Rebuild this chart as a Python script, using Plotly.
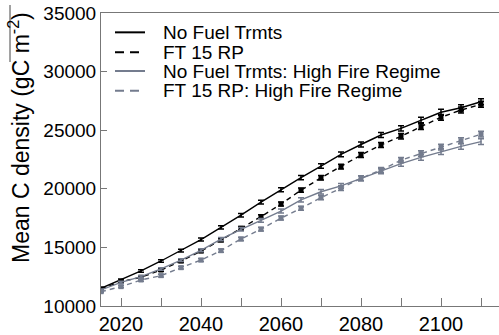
import plotly.graph_objects as go

years = list(range(2015, 2111, 5))
no_fuel = [11510, 12220, 12990, 13840, 14720, 15670, 16710, 17750, 18870, 19920,
           20960, 21940, 22940, 23780, 24590, 25160, 25870, 26530, 26920, 27430]
ft15 = [11450, 12090, 12450, 13070, 13840, 14690, 15630, 16630, 17620, 18700,
        19880, 20940, 21890, 22880, 23740, 24480, 25300, 26100, 26720, 27210]
no_fuel_hf = [11370, 12020, 12500, 13160, 13920, 14750, 15700, 16540, 17300, 18100,
              19050, 19750, 20250, 20900, 21500, 22150, 22680, 23170, 23620, 24020]
ft15_hf = [11220, 11650, 12220, 12590, 13270, 13920, 14720, 15720, 16550, 17500,
           18340, 19250, 20050, 20900, 21600, 22450, 23000, 23560, 24100, 24660]
err = [80, 90, 100, 110, 120, 130, 140, 150, 160, 170,
       180, 190, 200, 210, 220, 230, 240, 250, 250, 250]

names = ["No Fuel Trmts", "FT 15 RP", "No Fuel Trmts: High Fire Regime", "FT 15 RP: High Fire Regime"]
BLACK = "#000000"
GRAY = "#747c8e"
series = [
    (no_fuel, BLACK, "solid", False),
    (ft15, BLACK, "5px,4px", True),
    (no_fuel_hf, GRAY, "solid", False),
    (ft15_hf, GRAY, "5px,4px", True),
]

fig = go.Figure()
for (vals, col, dash, sq), nm in zip(series, names):
    fig.add_trace(go.Scatter(x=years, y=vals, mode="lines", name=nm,
                             line=dict(color=col, width=1.4, dash=dash),
                             showlegend=False))
    fig.add_trace(go.Scatter(x=years, y=vals, mode="markers", showlegend=False,
                             marker=dict(symbol="square", size=5 if sq else 1, color=col),
                             error_y=dict(type="data", array=err, color=col,
                                          thickness=1.5, width=3)))

# manual legend (positions in paper coordinates)
leg_rows = [0.934, 0.866, 0.802, 0.735]
styles = [(BLACK, "solid"), (BLACK, "9px,6px"), (GRAY, "solid"), (GRAY, "9px,6px")]
for yy, (col, dash), nm in zip(leg_rows, styles, names):
    fig.add_shape(type="line", xref="paper", yref="paper",
                  x0=(115 - 101) / 398, x1=(145 - 101) / 398, y0=yy, y1=yy,
                  line=dict(color=col, width=2, dash=dash))
    fig.add_annotation(text=nm, xref="paper", yref="paper",
                       x=(161 - 101) / 398, y=yy, xanchor="left", yanchor="middle",
                       showarrow=False, font=dict(size=19, color="black"))

fig.add_annotation(text="Mean C density (gC m<sup>-2</sup>)", xref="paper", yref="paper",
                   x=(19 - 101) / 398, y=(306 - 138) / 293, textangle=-90,
                   xanchor="center", yanchor="middle", showarrow=False,
                   font=dict(size=23, color="black"))
fig.add_shape(type="line", xref="paper", yref="paper",
              x0=(10 - 101) / 398, x1=(10 - 101) / 398,
              y0=(306 - 5) / 293, y1=(306 - 62) / 293,
              line=dict(color="#444444", width=1))

fig.update_layout(
    width=499, height=335,
    margin=dict(l=101, r=0, t=13, b=29),
    paper_bgcolor="white", plot_bgcolor="white",
    font=dict(family="Liberation Sans, Arial, sans-serif", size=19, color="black"),
    xaxis=dict(range=[2015, 2114.5], tick0=2020, dtick=20, ticks="inside", ticklen=8,
               tickcolor="#777777", showline=True, linecolor="#777777", linewidth=1,
               mirror=True, showgrid=False, zeroline=False, tickfont=dict(size=20),
               minor=dict(tick0=2020, dtick=10, ticks="inside", ticklen=8, tickcolor="#777777")),
    yaxis=dict(range=[10000, 35000], dtick=5000, ticks="inside", ticklen=6,
               tickformat="d", tickfont=dict(size=19),
               tickcolor="#777777", showline=True, linecolor="#777777", linewidth=1,
               showgrid=False, zeroline=False),
)

fig.write_html("out.html")
